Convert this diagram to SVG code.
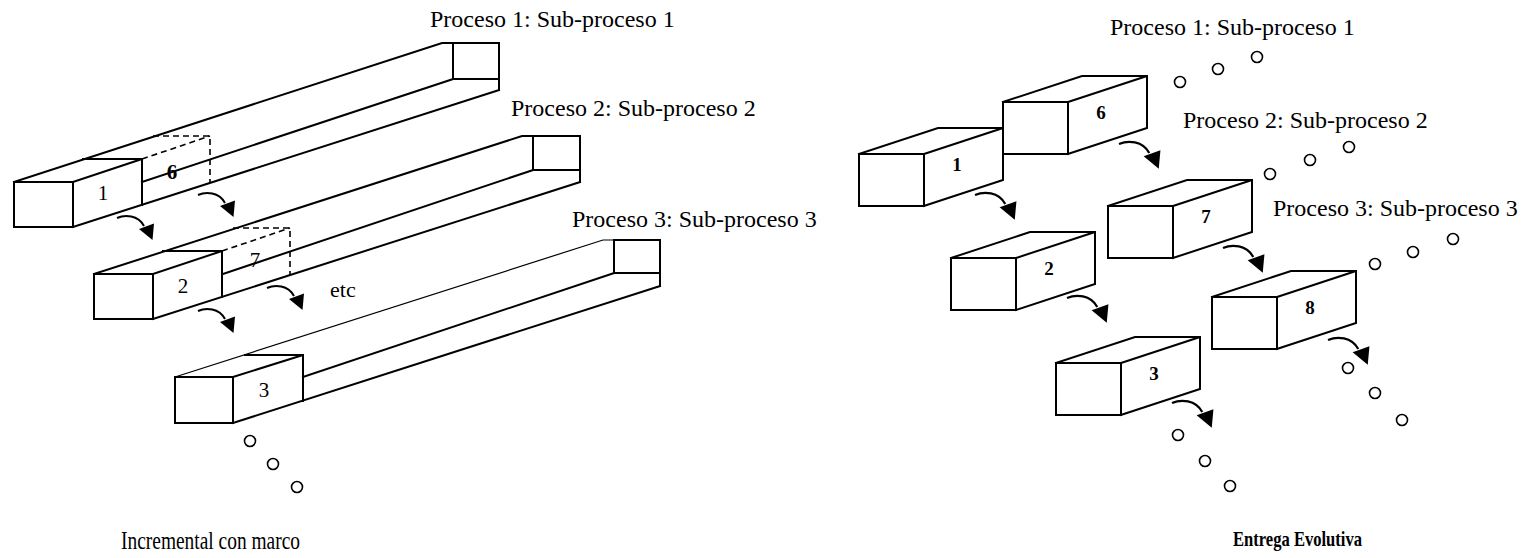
<svg xmlns="http://www.w3.org/2000/svg" xmlns:xlink="http://www.w3.org/1999/xlink" width="1532" height="558" viewBox="0 0 1532 558">
  <style>
    .ln { fill: none; stroke: #000; stroke-width: 2; stroke-linejoin: miter; stroke-linecap: square; }
    .thin { fill: none; stroke: #000; stroke-width: 1.2; }
    .dash { fill: none; stroke: #000; stroke-width: 1.6; stroke-dasharray: 6 4; }
    .dot { fill: #fff; stroke: #000; stroke-width: 1.6; }
    .lbl { font-family: "Liberation Serif", "Times New Roman", serif; font-size: 24px; fill: #000; }
    .num { font-family: "Liberation Serif", "Times New Roman", serif; font-size: 21px; fill: #000; text-anchor: middle; }
    .bnum { font-family: "Liberation Serif", "Times New Roman", serif; font-size: 19px; font-weight: bold; fill: #000; text-anchor: middle; }
    .cap { font-family: "Liberation Serif", "Times New Roman", serif; fill: #000; }
  </style>
  <defs>
    <!-- curved hand-off arrow, drawn from its start point -->
    <g id="turn">
      <path d="M0,0 C8,-3.5 21,-3 27,8" fill="none" stroke="#000" stroke-width="2"/>
      <polygon points="22,11 37,5.5 35.5,22" fill="#000"/>
    </g>
    <!-- solid box for the evolutionary delivery chain: front 65x52, depth (79,-26) -->
    <g id="box">
      <rect x="0" y="0" width="65" height="52" fill="#fff" stroke="#000" stroke-width="2"/>
      <path class="ln" d="M0,0 L79,-26 L144,-26 L65,0 M144,-26 L144,26 L65,52"/>
    </g>
  </defs>

  <!-- ===== Incremental con marco ===== -->
  <g id="bar-1">
    <rect class="ln" x="14" y="182" width="59" height="45"/>
    <path class="ln" d="M14,182 L442,43 L453,43"/>
    <rect class="ln" x="453" y="43" width="46" height="36"/>
    <path class="ln" d="M499,79 L499,90"/>
    <path class="ln" d="M142,182 L453,79"/>
    <path class="ln" d="M73,227 L499,90"/>
    <path class="ln" d="M73,182 L142,159 L83,159 M142,159 L142,205"/>
    <path class="dash" d="M142,159 L210,136 M153,136 L210,136 L210,183"/>
    <text class="num" x="103" y="200">1</text>
    <text class="num" x="172" y="179" font-weight="bold">6</text>
    <text class="lbl" x="430" y="27">Proceso 1: Sub-proceso 1</text>
  </g>

  <g id="bar-2">
    <rect class="ln" x="94" y="274" width="59" height="45"/>
    <path class="ln" d="M94,274 L522,136 L533,136"/>
    <rect class="ln" x="533" y="136" width="47" height="34"/>
    <path class="ln" d="M580,170 L580,182"/>
    <path class="ln" d="M223,274 L533,170"/>
    <path class="ln" d="M153,319 L580,182"/>
    <path class="ln" d="M153,274 L222,251 L163,251 M222,251 L222,297"/>
    <path class="dash" d="M222,251 L290,228 M233,228 L290,228 L290,275"/>
    <text class="num" x="183" y="293">2</text>
    <text class="num" x="255" y="267" fill="#555">7</text>
    <text class="lbl" x="511" y="116">Proceso 2: Sub-proceso 2</text>
  </g>

  <g id="bar-3">
    <rect class="ln" x="175" y="377" width="58" height="46"/>
    <path class="thin" d="M175,377 L603,240 L614,240"/>
    <rect class="ln" x="614" y="240" width="46" height="33"/>
    <path class="ln" d="M660,273 L660,286"/>
    <path class="ln" d="M303,377 L614,273"/>
    <path class="ln" d="M233,423 L660,286"/>
    <path class="ln" d="M233,377 L303,355 L245,355 M303,355 L303,401"/>
    <text class="num" x="264" y="397">3</text>
    <text class="lbl" x="572" y="227">Proceso 3: Sub-proceso 3</text>
  </g>

  <g id="etc">
    <text class="lbl" x="330" y="297" style="font-size:22px">etc</text>
  </g>

  <g id="dots-left">
    <circle class="dot" cx="250" cy="441" r="5.5"/>
    <circle class="dot" cx="273" cy="464" r="5.5"/>
    <circle class="dot" cx="297" cy="487" r="5.5"/>
  </g>

  <text id="title-left" class="cap" x="121" y="549" style="font-size:25px" textLength="179" lengthAdjust="spacingAndGlyphs">Incremental con marco</text>

  <!-- ===== Entrega Evolutiva ===== -->
  <g id="box-1">
    <use xlink:href="#box" x="859" y="154"/>
    <text class="bnum" x="957" y="171">1</text>
  </g>
  <g id="box-6">
    <use xlink:href="#box" x="1003" y="102"/>
    <text class="bnum" x="1101" y="119">6</text>
  </g>
  <g id="box-2">
    <use xlink:href="#box" x="951" y="258"/>
    <text class="bnum" x="1049" y="275">2</text>
  </g>
  <g id="box-7">
    <use xlink:href="#box" x="1108" y="206"/>
    <text class="bnum" x="1206" y="223">7</text>
  </g>
  <g id="box-8">
    <use xlink:href="#box" x="1212" y="297"/>
    <text class="bnum" x="1310" y="314">8</text>
  </g>
  <g id="box-3">
    <use xlink:href="#box" x="1056" y="363"/>
    <text class="bnum" x="1154" y="380">3</text>
  </g>

  <g id="labels-right">
    <text class="lbl" x="1110" y="35">Proceso 1: Sub-proceso 1</text>
    <text class="lbl" x="1183" y="128">Proceso 2: Sub-proceso 2</text>
    <text class="lbl" x="1273" y="216">Proceso 3: Sub-proceso 3</text>
  </g>

  <g id="dots-right">
    <circle class="dot" cx="1180" cy="82" r="5.5"/>
    <circle class="dot" cx="1218" cy="69" r="5.5"/>
    <circle class="dot" cx="1257" cy="57" r="5.5"/>
    <circle class="dot" cx="1270" cy="174" r="5.5"/>
    <circle class="dot" cx="1310" cy="160" r="5.5"/>
    <circle class="dot" cx="1349" cy="147" r="5.5"/>
    <circle class="dot" cx="1375" cy="264" r="5.5"/>
    <circle class="dot" cx="1413" cy="252" r="5.5"/>
    <circle class="dot" cx="1453" cy="239" r="5.5"/>
    <circle class="dot" cx="1348" cy="368" r="5.5"/>
    <circle class="dot" cx="1375" cy="393" r="5.5"/>
    <circle class="dot" cx="1402" cy="420" r="5.5"/>
    <circle class="dot" cx="1178" cy="435" r="5.5"/>
    <circle class="dot" cx="1205" cy="461" r="5.5"/>
    <circle class="dot" cx="1230" cy="486" r="5.5"/>
  </g>

  <text id="title-right" class="cap" x="1233" y="546" style="font-size:21px;font-weight:bold" textLength="129" lengthAdjust="spacingAndGlyphs">Entrega Evolutiva</text>

  <!-- hand-off arrows between increments -->
  <g id="connectors">
    <use xlink:href="#turn" x="117" y="218"/>
    <use xlink:href="#turn" x="198" y="195"/>
    <use xlink:href="#turn" x="198" y="311"/>
    <use xlink:href="#turn" x="267" y="288"/>
    <use xlink:href="#turn" transform="translate(975,195) scale(1.12)"/>
    <use xlink:href="#turn" transform="translate(1119,144) scale(1.12)"/>
    <use xlink:href="#turn" transform="translate(1067,298) scale(1.12)"/>
    <use xlink:href="#turn" transform="translate(1223,248) scale(1.12)"/>
    <use xlink:href="#turn" transform="translate(1328,340) scale(1.12)"/>
    <use xlink:href="#turn" transform="translate(1172,403) scale(1.12)"/>
  </g>
</svg>
